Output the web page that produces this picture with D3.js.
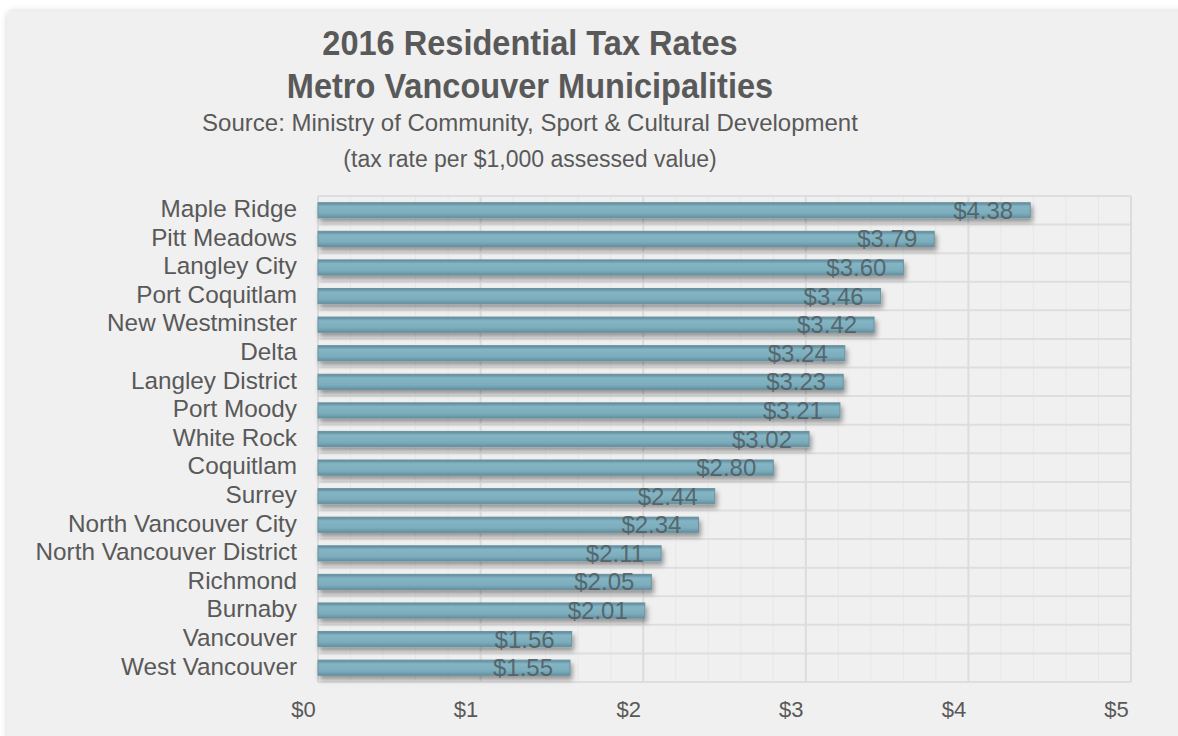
<!DOCTYPE html>
<html>
<head>
<meta charset="utf-8">
<script src="https://cdn.jsdelivr.net/npm/d3@7"></script>
<style>
  html, body { margin: 0; padding: 0; background: #ffffff; }
  svg { display: block; font-family: "Liberation Sans", Arial, sans-serif; }
</style>
</head>
<body>
<svg id="chart" width="1178" height="736"></svg>
<script>
// ---- Data ----
const categories = [
  "Maple Ridge", "Pitt Meadows", "Langley City", "Port Coquitlam", "New Westminster",
  "Delta", "Langley District", "Port Moody", "White Rock", "Coquitlam", "Surrey",
  "North Vancouver City", "North Vancouver District", "Richmond", "Burnaby",
  "Vancouver", "West Vancouver"
];
const taxRates = [4.38, 3.79, 3.60, 3.46, 3.42, 3.24, 3.23, 3.21, 3.02, 2.80, 2.44, 2.34, 2.11, 2.05, 2.01, 1.56, 1.55];
const xTickValues = [0, 1, 2, 3, 4, 5];
const xTickLabels = ["$0", "$1", "$2", "$3", "$4", "$5"];
const titleLines = ["2016 Residential Tax Rates", "Metro Vancouver Municipalities"];
const subtitleLines = ["Source: Ministry of Community, Sport & Cultural Development", "(tax rate per $1,000 assessed value)"];

const svg = d3.select("#chart");
const W = 1178, H = 736;
const textColor = "#595959";

const defs = svg.append("defs");
const cardShadow = defs.append("filter").attr("id", "cardShadow")
  .attr("x", "-5%").attr("y", "-5%").attr("width", "110%").attr("height", "110%");
cardShadow.append("feDropShadow").attr("dx", 0).attr("dy", 0).attr("stdDeviation", 3)
  .attr("flood-color", "#000").attr("flood-opacity", 0.18);

const barShadow = defs.append("filter").attr("id", "barShadow")
  .attr("x", "-5%").attr("y", "-50%").attr("width", "115%").attr("height", "250%");
barShadow.append("feDropShadow").attr("dx", 2).attr("dy", 4).attr("stdDeviation", 2.4)
  .attr("flood-color", "#000").attr("flood-opacity", 0.38);

const grad = defs.append("linearGradient").attr("id", "barGrad")
  .attr("x1", 0).attr("y1", 0).attr("x2", 0).attr("y2", 1);
grad.append("stop").attr("offset", "0%").attr("stop-color", "#5f8795");
grad.append("stop").attr("offset", "12%").attr("stop-color", "#6f9dad");
grad.append("stop").attr("offset", "25%").attr("stop-color", "#84b5c5");
grad.append("stop").attr("offset", "70%").attr("stop-color", "#7cadbd");
grad.append("stop").attr("offset", "88%").attr("stop-color", "#6e9dad");
grad.append("stop").attr("offset", "100%").attr("stop-color", "#5f8a99");

// Card background
svg.append("rect").attr("x", 7).attr("y", 11).attr("width", W + 20).attr("height", H + 20)
  .attr("rx", 6).attr("fill", "#f0f0f0").attr("filter", "url(#cardShadow)");

// Titles
const titleG = svg.append("g").attr("text-anchor", "middle").attr("fill", textColor);
titleG.selectAll("text.title").data(titleLines).join("text")
  .attr("class", "title")
  .attr("transform", (d, i) => `translate(530,${55 + i * 42.5}) scale(0.93,1)`)
  .attr("font-size", 35).attr("font-weight", "bold").text(d => d);
const subSizes = [24, 23];
const subY = [131, 167];
titleG.selectAll("text.sub").data(subtitleLines).join("text")
  .attr("class", "sub")
  .attr("x", 530).attr("y", (d, i) => subY[i])
  .attr("font-size", (d, i) => subSizes[i]).text(d => d);

// Scales
const x = d3.scaleLinear().domain([0, 5]).range([318, 1131]);
const y = d3.scaleBand().domain(categories).range([196, 682]).paddingInner(0.47).paddingOuter(0.235);
const rowStep = y.step();

// Plot area
const plot = svg.append("g");
// minor vertical gridlines
plot.selectAll("line.minor").data(d3.range(0, 5.001, 0.2).filter(v => Math.abs(v - Math.round(v)) > 1e-6)).join("line")
  .attr("x1", d => x(d)).attr("x2", d => x(d)).attr("y1", 196).attr("y2", 682)
  .attr("stroke", "#e7e7e7").attr("stroke-width", 1);
// horizontal row gridlines
plot.selectAll("line.hrow").data(d3.range(categories.length + 1)).join("line")
  .attr("x1", x(0)).attr("x2", x(5))
  .attr("y1", d => 196 + d * rowStep).attr("y2", d => 196 + d * rowStep)
  .attr("stroke", "#dedede").attr("stroke-width", 2);
// major vertical gridlines
plot.selectAll("line.major").data(xTickValues).join("line")
  .attr("x1", d => x(d)).attr("x2", d => x(d)).attr("y1", 196).attr("y2", 682)
  .attr("stroke", "#dcdcdc").attr("stroke-width", 2);

// Bars
plot.selectAll("rect.bar").data(taxRates).join("rect")
  .attr("class", "bar")
  .attr("x", x(0))
  .attr("y", (d, i) => y(categories[i]))
  .attr("width", d => x(d) - x(0))
  .attr("height", y.bandwidth())
  .attr("fill", "url(#barGrad)")
  .attr("stroke", "#6a93a1").attr("stroke-width", 1)
  .attr("filter", "url(#barShadow)");

// Value labels
plot.selectAll("text.val").data(taxRates).join("text")
  .attr("class", "val")
  .attr("x", d => x(d) - 17)
  .attr("y", (d, i) => y(categories[i]) + y.bandwidth() / 2 + 8.5)
  .attr("text-anchor", "end")
  .attr("font-size", 24)
  .attr("fill", "#4f5a5e").attr("fill-opacity", 0.85)
  .text(d => "$" + d.toFixed(2));

// Y axis (category labels)
const yAxis = d3.axisLeft(y).tickSize(0).tickPadding(0);
const yg = svg.append("g").attr("transform", "translate(297,0)").call(yAxis);
yg.select(".domain").remove();
yg.selectAll("text").attr("font-size", 24.3).attr("fill", textColor)
  .attr("font-family", "Liberation Sans, Arial, sans-serif").attr("dy", "0.28em");

// X axis tick labels
const xAxis = d3.axisBottom(x).tickValues(xTickValues).tickFormat((d, i) => xTickLabels[i]).tickSize(0);
const xg = svg.append("g").attr("transform", "translate(-15,698)").call(xAxis);
xg.select(".domain").remove();
xg.selectAll("text").attr("font-size", 22).attr("fill", textColor)
  .attr("font-family", "Liberation Sans, Arial, sans-serif");
</script>
</body>
</html>
